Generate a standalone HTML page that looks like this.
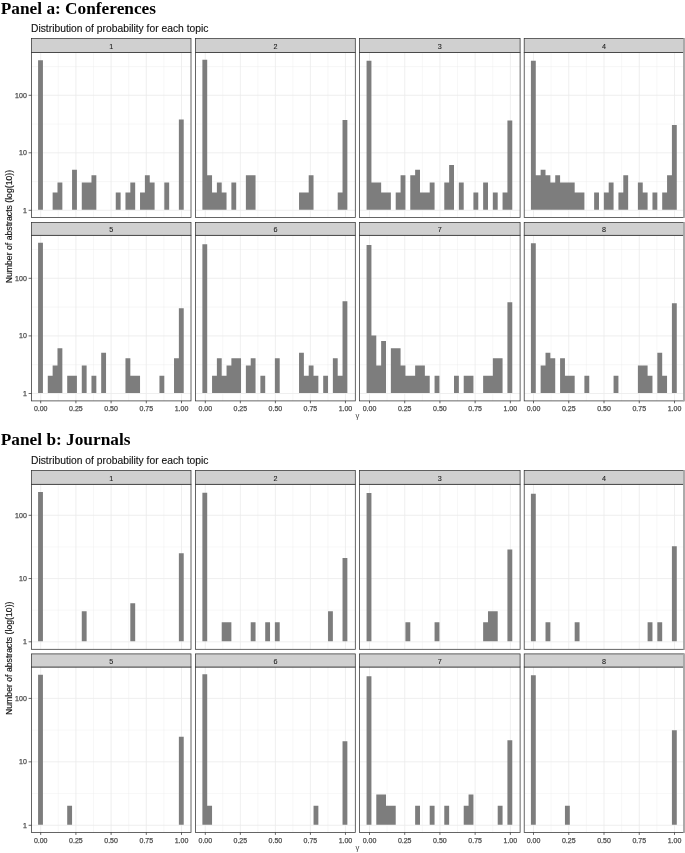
<!DOCTYPE html>
<html><head><meta charset="utf-8"><title>Distribution of probability for each topic</title>
<style>
html,body{margin:0;padding:0;background:#fff;}
svg{display:block}
.ttl{font-family:"Liberation Serif",serif;font-weight:bold;font-size:17.3px;fill:#000}
.sub{font-family:"Liberation Sans",sans-serif;font-size:10.3px;fill:#111;stroke:#111;stroke-width:0.12px}
.ylab{font-family:"Liberation Sans",sans-serif;font-size:8.7px;fill:#111;stroke:#111;stroke-width:0.15px}
.xlab{font-family:"Liberation Sans","DejaVu Sans",sans-serif;font-size:7.7px;fill:#444}
.tick{font-family:"Liberation Sans",sans-serif;font-size:7px;fill:#4d4d4d;stroke:#4d4d4d;stroke-width:0.25px}
.strip{font-family:"Liberation Sans",sans-serif;font-size:7.2px;fill:#1a1a1a;stroke:#1a1a1a;stroke-width:0.08px}
</style></head><body>
<svg width="685" height="853" viewBox="0 0 685 853">
<rect width="685" height="853" fill="#fff"/>
<text x="0.8" y="13.7" class="ttl">Panel a: Conferences</text>
<text x="31.0" y="32.4" class="sub">Distribution of probability for each topic</text>
<text transform="translate(12.2,226.6) rotate(-90)" text-anchor="middle" class="ylab">Number of abstracts (log(10))</text>
<rect x="31.5" y="52.4" width="159.5" height="165.00" fill="#fff"/>
<path d="M58.30 52.4V217.4M93.50 52.4V217.4M128.70 52.4V217.4M163.90 52.4V217.4M31.5 181.55H191.0M31.5 124.05H191.0M31.5 66.55H191.0" stroke="#ebebeb" stroke-width="0.4" fill="none"/>
<path d="M40.70 52.4V217.4M75.90 52.4V217.4M111.10 52.4V217.4M146.30 52.4V217.4M181.50 52.4V217.4M31.5 210.30H191.0M31.5 152.80H191.0M31.5 95.30H191.0" stroke="#ebebeb" stroke-width="0.8" fill="none"/>
<path d="M38.07 209.85v-149.70h4.86v149.70zM52.64 209.85v-17.31h4.86v17.31zM57.49 209.85v-27.43h4.86v27.43zM72.06 209.85v-40.19h4.86v40.19zM81.77 209.85v-27.43h4.86v27.43zM86.62 209.85v-27.43h4.86v27.43zM91.48 209.85v-34.62h4.86v34.62zM115.76 209.85v-17.31h4.86v17.31zM125.47 209.85v-17.31h4.86v17.31zM130.32 209.85v-27.43h4.86v27.43zM140.03 209.85v-17.31h4.86v17.31zM144.89 209.85v-34.62h4.86v34.62zM149.74 209.85v-27.43h4.86v27.43zM164.31 209.85v-27.43h4.86v27.43zM178.87 209.85v-90.40h4.86v90.40z" fill="#7d7d7d"/>
<rect x="31.5" y="52.4" width="159.5" height="165.00" fill="none" stroke="#333" stroke-width="0.75"/>
<rect x="31.5" y="38.6" width="159.5" height="13.80" fill="#d0d0d0" stroke="#333" stroke-width="0.75"/>
<text x="111.25" y="48.70" text-anchor="middle" class="strip">1</text>
<text x="26.80" y="212.80" text-anchor="end" class="tick">1</text>
<text x="26.80" y="155.30" text-anchor="end" class="tick">10</text>
<text x="26.80" y="97.80" text-anchor="end" class="tick">100</text>
<path d="M28.60 210.30H31.5M28.60 152.80H31.5M28.60 95.30H31.5" stroke="#333" stroke-width="0.75" fill="none"/>
<rect x="195.45" y="52.4" width="159.85000000000002" height="165.00" fill="#fff"/>
<path d="M222.82 52.4V217.4M257.86 52.4V217.4M292.89 52.4V217.4M327.93 52.4V217.4M195.45 181.55H355.3M195.45 124.05H355.3M195.45 66.55H355.3" stroke="#ebebeb" stroke-width="0.4" fill="none"/>
<path d="M205.30 52.4V217.4M240.34 52.4V217.4M275.38 52.4V217.4M310.41 52.4V217.4M345.45 52.4V217.4M195.45 210.30H355.3M195.45 152.80H355.3M195.45 95.30H355.3" stroke="#ebebeb" stroke-width="0.8" fill="none"/>
<path d="M202.38 209.85v-150.20h4.83v150.20zM207.22 209.85v-34.62h4.83v34.62zM212.05 209.85v-17.31h4.83v17.31zM216.88 209.85v-27.43h4.83v27.43zM221.71 209.85v-17.31h4.83v17.31zM231.38 209.85v-27.43h4.83v27.43zM245.88 209.85v-34.62h4.83v34.62zM250.71 209.85v-34.62h4.83v34.62zM299.04 209.85v-17.31h4.83v17.31zM303.87 209.85v-17.31h4.83v17.31zM308.70 209.85v-34.62h4.83v34.62zM337.70 209.85v-17.31h4.83v17.31zM342.53 209.85v-89.90h4.83v89.90z" fill="#7d7d7d"/>
<rect x="195.45" y="52.4" width="159.85000000000002" height="165.00" fill="none" stroke="#333" stroke-width="0.75"/>
<rect x="195.45" y="38.6" width="159.85000000000002" height="13.80" fill="#d0d0d0" stroke="#333" stroke-width="0.75"/>
<text x="275.38" y="48.70" text-anchor="middle" class="strip">2</text>
<rect x="359.4" y="52.4" width="160.70000000000005" height="165.00" fill="#fff"/>
<path d="M387.11 52.4V217.4M422.32 52.4V217.4M457.53 52.4V217.4M492.74 52.4V217.4M359.4 181.55H520.1M359.4 124.05H520.1M359.4 66.55H520.1" stroke="#ebebeb" stroke-width="0.4" fill="none"/>
<path d="M369.50 52.4V217.4M404.71 52.4V217.4M439.93 52.4V217.4M475.14 52.4V217.4M510.35 52.4V217.4M359.4 210.30H520.1M359.4 152.80H520.1M359.4 95.30H520.1" stroke="#ebebeb" stroke-width="0.8" fill="none"/>
<path d="M366.57 209.85v-149.00h4.86v149.00zM371.43 209.85v-27.43h4.86v27.43zM376.29 209.85v-27.43h4.86v27.43zM381.14 209.85v-17.31h4.86v17.31zM386.00 209.85v-17.31h4.86v17.31zM395.71 209.85v-17.31h4.86v17.31zM400.57 209.85v-34.62h4.86v34.62zM410.28 209.85v-34.62h4.86v34.62zM415.14 209.85v-40.19h4.86v40.19zM420.00 209.85v-17.31h4.86v17.31zM424.85 209.85v-17.31h4.86v17.31zM429.71 209.85v-27.43h4.86v27.43zM444.28 209.85v-27.43h4.86v27.43zM449.14 209.85v-44.74h4.86v44.74zM458.85 209.85v-27.43h4.86v27.43zM473.42 209.85v-17.31h4.86v17.31zM483.14 209.85v-27.43h4.86v27.43zM492.85 209.85v-17.31h4.86v17.31zM502.56 209.85v-17.31h4.86v17.31zM507.42 209.85v-89.40h4.86v89.40z" fill="#7d7d7d"/>
<rect x="359.4" y="52.4" width="160.70000000000005" height="165.00" fill="none" stroke="#333" stroke-width="0.75"/>
<rect x="359.4" y="38.6" width="160.70000000000005" height="13.80" fill="#d0d0d0" stroke="#333" stroke-width="0.75"/>
<text x="439.75" y="48.70" text-anchor="middle" class="strip">3</text>
<rect x="524.2" y="52.4" width="159.79999999999995" height="165.00" fill="#fff"/>
<path d="M551.12 52.4V217.4M586.38 52.4V217.4M621.62 52.4V217.4M656.88 52.4V217.4M524.2 181.55H684.0M524.2 124.05H684.0M524.2 66.55H684.0" stroke="#ebebeb" stroke-width="0.4" fill="none"/>
<path d="M533.50 52.4V217.4M568.75 52.4V217.4M604.00 52.4V217.4M639.25 52.4V217.4M674.50 52.4V217.4M524.2 210.30H684.0M524.2 152.80H684.0M524.2 95.30H684.0" stroke="#ebebeb" stroke-width="0.8" fill="none"/>
<path d="M530.92 209.85v-149.00h4.86v149.00zM535.78 209.85v-34.62h4.86v34.62zM540.64 209.85v-40.19h4.86v40.19zM545.51 209.85v-34.62h4.86v34.62zM550.37 209.85v-27.43h4.86v27.43zM555.23 209.85v-34.62h4.86v34.62zM560.09 209.85v-27.43h4.86v27.43zM564.95 209.85v-27.43h4.86v27.43zM569.82 209.85v-27.43h4.86v27.43zM574.68 209.85v-17.31h4.86v17.31zM579.54 209.85v-17.31h4.86v17.31zM594.13 209.85v-17.31h4.86v17.31zM603.85 209.85v-17.31h4.86v17.31zM608.71 209.85v-27.43h4.86v27.43zM618.44 209.85v-17.31h4.86v17.31zM623.30 209.85v-34.62h4.86v34.62zM637.88 209.85v-27.43h4.86v27.43zM642.75 209.85v-17.31h4.86v17.31zM652.47 209.85v-17.31h4.86v17.31zM662.19 209.85v-17.31h4.86v17.31zM667.06 209.85v-34.62h4.86v34.62zM671.92 209.85v-84.80h4.86v84.80z" fill="#7d7d7d"/>
<rect x="524.2" y="52.4" width="159.79999999999995" height="165.00" fill="none" stroke="#333" stroke-width="0.75"/>
<rect x="524.2" y="38.6" width="159.79999999999995" height="13.80" fill="#d0d0d0" stroke="#333" stroke-width="0.75"/>
<text x="604.10" y="48.70" text-anchor="middle" class="strip">4</text>
<rect x="683.1" y="38.30" width="1.9" height="179.40" fill="#ababab"/>
<rect x="31.5" y="235.3" width="159.5" height="165.60" fill="#fff"/>
<path d="M58.30 235.3V400.9M93.50 235.3V400.9M128.70 235.3V400.9M163.90 235.3V400.9M31.5 364.70H191.0M31.5 307.10H191.0M31.5 249.50H191.0" stroke="#ebebeb" stroke-width="0.4" fill="none"/>
<path d="M40.70 235.3V400.9M75.90 235.3V400.9M111.10 235.3V400.9M146.30 235.3V400.9M181.50 235.3V400.9M31.5 393.50H191.0M31.5 335.90H191.0M31.5 278.30H191.0" stroke="#ebebeb" stroke-width="0.8" fill="none"/>
<path d="M38.07 393.05v-150.20h4.86v150.20zM47.78 393.05v-17.34h4.86v17.34zM52.64 393.05v-27.48h4.86v27.48zM57.49 393.05v-44.82h4.86v44.82zM67.20 393.05v-17.34h4.86v17.34zM72.06 393.05v-17.34h4.86v17.34zM81.77 393.05v-27.48h4.86v27.48zM91.48 393.05v-17.34h4.86v17.34zM101.19 393.05v-40.26h4.86v40.26zM125.47 393.05v-34.68h4.86v34.68zM130.32 393.05v-17.34h4.86v17.34zM135.18 393.05v-17.34h4.86v17.34zM159.45 393.05v-17.34h4.86v17.34zM174.02 393.05v-34.68h4.86v34.68zM178.87 393.05v-84.80h4.86v84.80z" fill="#7d7d7d"/>
<rect x="31.5" y="235.3" width="159.5" height="165.60" fill="none" stroke="#333" stroke-width="0.75"/>
<rect x="31.5" y="222.55" width="159.5" height="12.75" fill="#d0d0d0" stroke="#333" stroke-width="0.75"/>
<text x="111.25" y="232.12" text-anchor="middle" class="strip">5</text>
<text x="26.80" y="396.00" text-anchor="end" class="tick">1</text>
<text x="26.80" y="338.40" text-anchor="end" class="tick">10</text>
<text x="26.80" y="280.80" text-anchor="end" class="tick">100</text>
<path d="M28.60 393.50H31.5M28.60 335.90H31.5M28.60 278.30H31.5" stroke="#333" stroke-width="0.75" fill="none"/>
<text x="40.70" y="410.9" text-anchor="middle" class="tick">0.00</text>
<text x="75.90" y="410.9" text-anchor="middle" class="tick">0.25</text>
<text x="111.10" y="410.9" text-anchor="middle" class="tick">0.50</text>
<text x="146.30" y="410.9" text-anchor="middle" class="tick">0.75</text>
<text x="181.50" y="410.9" text-anchor="middle" class="tick">1.00</text>
<path d="M40.70 400.9v2.4M75.90 400.9v2.4M111.10 400.9v2.4M146.30 400.9v2.4M181.50 400.9v2.4" stroke="#333" stroke-width="0.75" fill="none"/>
<rect x="195.45" y="235.3" width="159.85000000000002" height="165.60" fill="#fff"/>
<path d="M222.82 235.3V400.9M257.86 235.3V400.9M292.89 235.3V400.9M327.93 235.3V400.9M195.45 364.70H355.3M195.45 307.10H355.3M195.45 249.50H355.3" stroke="#ebebeb" stroke-width="0.4" fill="none"/>
<path d="M205.30 235.3V400.9M240.34 235.3V400.9M275.38 235.3V400.9M310.41 235.3V400.9M345.45 235.3V400.9M195.45 393.50H355.3M195.45 335.90H355.3M195.45 278.30H355.3" stroke="#ebebeb" stroke-width="0.8" fill="none"/>
<path d="M202.38 393.05v-148.80h4.83v148.80zM212.05 393.05v-17.34h4.83v17.34zM216.88 393.05v-34.68h4.83v34.68zM221.71 393.05v-17.34h4.83v17.34zM226.55 393.05v-27.48h4.83v27.48zM231.38 393.05v-34.68h4.83v34.68zM236.21 393.05v-34.68h4.83v34.68zM245.88 393.05v-27.48h4.83v27.48zM250.71 393.05v-34.68h4.83v34.68zM260.38 393.05v-17.34h4.83v17.34zM274.88 393.05v-34.68h4.83v34.68zM299.04 393.05v-40.26h4.83v40.26zM303.87 393.05v-17.34h4.83v17.34zM308.70 393.05v-27.48h4.83v27.48zM313.54 393.05v-17.34h4.83v17.34zM323.20 393.05v-17.34h4.83v17.34zM332.87 393.05v-34.68h4.83v34.68zM337.70 393.05v-17.34h4.83v17.34zM342.53 393.05v-91.80h4.83v91.80z" fill="#7d7d7d"/>
<rect x="195.45" y="235.3" width="159.85000000000002" height="165.60" fill="none" stroke="#333" stroke-width="0.75"/>
<rect x="195.45" y="222.55" width="159.85000000000002" height="12.75" fill="#d0d0d0" stroke="#333" stroke-width="0.75"/>
<text x="275.38" y="232.12" text-anchor="middle" class="strip">6</text>
<text x="205.30" y="410.9" text-anchor="middle" class="tick">0.00</text>
<text x="240.34" y="410.9" text-anchor="middle" class="tick">0.25</text>
<text x="275.38" y="410.9" text-anchor="middle" class="tick">0.50</text>
<text x="310.41" y="410.9" text-anchor="middle" class="tick">0.75</text>
<text x="345.45" y="410.9" text-anchor="middle" class="tick">1.00</text>
<path d="M205.30 400.9v2.4M240.34 400.9v2.4M275.38 400.9v2.4M310.41 400.9v2.4M345.45 400.9v2.4" stroke="#333" stroke-width="0.75" fill="none"/>
<rect x="359.4" y="235.3" width="160.70000000000005" height="165.60" fill="#fff"/>
<path d="M387.11 235.3V400.9M422.32 235.3V400.9M457.53 235.3V400.9M492.74 235.3V400.9M359.4 364.70H520.1M359.4 307.10H520.1M359.4 249.50H520.1" stroke="#ebebeb" stroke-width="0.4" fill="none"/>
<path d="M369.50 235.3V400.9M404.71 235.3V400.9M439.93 235.3V400.9M475.14 235.3V400.9M510.35 235.3V400.9M359.4 393.50H520.1M359.4 335.90H520.1M359.4 278.30H520.1" stroke="#ebebeb" stroke-width="0.8" fill="none"/>
<path d="M366.57 393.05v-148.00h4.86v148.00zM371.43 393.05v-57.60h4.86v57.60zM376.29 393.05v-27.48h4.86v27.48zM381.14 393.05v-52.02h4.86v52.02zM390.86 393.05v-44.82h4.86v44.82zM395.71 393.05v-44.82h4.86v44.82zM400.57 393.05v-27.48h4.86v27.48zM405.43 393.05v-17.34h4.86v17.34zM410.28 393.05v-17.34h4.86v17.34zM415.14 393.05v-27.48h4.86v27.48zM420.00 393.05v-27.48h4.86v27.48zM424.85 393.05v-17.34h4.86v17.34zM434.57 393.05v-17.34h4.86v17.34zM454.00 393.05v-17.34h4.86v17.34zM463.71 393.05v-17.34h4.86v17.34zM468.57 393.05v-17.34h4.86v17.34zM483.14 393.05v-17.34h4.86v17.34zM487.99 393.05v-17.34h4.86v17.34zM492.85 393.05v-34.68h4.86v34.68zM497.71 393.05v-34.68h4.86v34.68zM507.42 393.05v-90.90h4.86v90.90z" fill="#7d7d7d"/>
<rect x="359.4" y="235.3" width="160.70000000000005" height="165.60" fill="none" stroke="#333" stroke-width="0.75"/>
<rect x="359.4" y="222.55" width="160.70000000000005" height="12.75" fill="#d0d0d0" stroke="#333" stroke-width="0.75"/>
<text x="439.75" y="232.12" text-anchor="middle" class="strip">7</text>
<text x="369.50" y="410.9" text-anchor="middle" class="tick">0.00</text>
<text x="404.71" y="410.9" text-anchor="middle" class="tick">0.25</text>
<text x="439.93" y="410.9" text-anchor="middle" class="tick">0.50</text>
<text x="475.14" y="410.9" text-anchor="middle" class="tick">0.75</text>
<text x="510.35" y="410.9" text-anchor="middle" class="tick">1.00</text>
<path d="M369.50 400.9v2.4M404.71 400.9v2.4M439.93 400.9v2.4M475.14 400.9v2.4M510.35 400.9v2.4" stroke="#333" stroke-width="0.75" fill="none"/>
<rect x="524.2" y="235.3" width="159.79999999999995" height="165.60" fill="#fff"/>
<path d="M551.12 235.3V400.9M586.38 235.3V400.9M621.62 235.3V400.9M656.88 235.3V400.9M524.2 364.70H684.0M524.2 307.10H684.0M524.2 249.50H684.0" stroke="#ebebeb" stroke-width="0.4" fill="none"/>
<path d="M533.50 235.3V400.9M568.75 235.3V400.9M604.00 235.3V400.9M639.25 235.3V400.9M674.50 235.3V400.9M524.2 393.50H684.0M524.2 335.90H684.0M524.2 278.30H684.0" stroke="#ebebeb" stroke-width="0.8" fill="none"/>
<path d="M530.92 393.05v-149.70h4.86v149.70zM540.64 393.05v-27.48h4.86v27.48zM545.51 393.05v-40.26h4.86v40.26zM550.37 393.05v-34.68h4.86v34.68zM560.09 393.05v-34.68h4.86v34.68zM564.95 393.05v-17.34h4.86v17.34zM569.82 393.05v-17.34h4.86v17.34zM584.40 393.05v-17.34h4.86v17.34zM613.57 393.05v-17.34h4.86v17.34zM637.88 393.05v-27.48h4.86v27.48zM642.75 393.05v-27.48h4.86v27.48zM647.61 393.05v-17.34h4.86v17.34zM657.33 393.05v-40.26h4.86v40.26zM662.19 393.05v-17.34h4.86v17.34zM671.92 393.05v-89.70h4.86v89.70z" fill="#7d7d7d"/>
<rect x="524.2" y="235.3" width="159.79999999999995" height="165.60" fill="none" stroke="#333" stroke-width="0.75"/>
<rect x="524.2" y="222.55" width="159.79999999999995" height="12.75" fill="#d0d0d0" stroke="#333" stroke-width="0.75"/>
<text x="604.10" y="232.12" text-anchor="middle" class="strip">8</text>
<rect x="683.1" y="222.25" width="1.9" height="178.95" fill="#ababab"/>
<text x="533.50" y="410.9" text-anchor="middle" class="tick">0.00</text>
<text x="568.75" y="410.9" text-anchor="middle" class="tick">0.25</text>
<text x="604.00" y="410.9" text-anchor="middle" class="tick">0.50</text>
<text x="639.25" y="410.9" text-anchor="middle" class="tick">0.75</text>
<text x="674.50" y="410.9" text-anchor="middle" class="tick">1.00</text>
<path d="M533.50 400.9v2.4M568.75 400.9v2.4M604.00 400.9v2.4M639.25 400.9v2.4M674.50 400.9v2.4" stroke="#333" stroke-width="0.75" fill="none"/>
<text x="357.4" y="418.4" text-anchor="middle" class="xlab">γ</text>
<text x="0.8" y="444.9" class="ttl">Panel b: Journals</text>
<text x="31.0" y="464.2" class="sub">Distribution of probability for each topic</text>
<text transform="translate(12.2,658.3) rotate(-90)" text-anchor="middle" class="ylab">Number of abstracts (log(10))</text>
<rect x="31.5" y="484.3" width="159.5" height="165.00" fill="#fff"/>
<path d="M58.30 484.3V649.3M93.50 484.3V649.3M128.70 484.3V649.3M163.90 484.3V649.3M31.5 610.17H191.0M31.5 546.92H191.0" stroke="#ebebeb" stroke-width="0.4" fill="none"/>
<path d="M40.70 484.3V649.3M75.90 484.3V649.3M111.10 484.3V649.3M146.30 484.3V649.3M181.50 484.3V649.3M31.5 641.80H191.0M31.5 578.55H191.0M31.5 515.30H191.0" stroke="#ebebeb" stroke-width="0.8" fill="none"/>
<path d="M38.07 641.35v-149.30h4.86v149.30zM81.77 641.35v-30.18h4.86v30.18zM130.32 641.35v-38.08h4.86v38.08zM178.87 641.35v-88.00h4.86v88.00z" fill="#7d7d7d"/>
<rect x="31.5" y="484.3" width="159.5" height="165.00" fill="none" stroke="#333" stroke-width="0.75"/>
<rect x="31.5" y="470.5" width="159.5" height="13.80" fill="#d0d0d0" stroke="#333" stroke-width="0.75"/>
<text x="111.25" y="480.60" text-anchor="middle" class="strip">1</text>
<text x="26.80" y="644.30" text-anchor="end" class="tick">1</text>
<text x="26.80" y="581.05" text-anchor="end" class="tick">10</text>
<text x="26.80" y="517.80" text-anchor="end" class="tick">100</text>
<path d="M28.60 641.80H31.5M28.60 578.55H31.5M28.60 515.30H31.5" stroke="#333" stroke-width="0.75" fill="none"/>
<rect x="195.45" y="484.3" width="159.85000000000002" height="165.00" fill="#fff"/>
<path d="M222.82 484.3V649.3M257.86 484.3V649.3M292.89 484.3V649.3M327.93 484.3V649.3M195.45 610.17H355.3M195.45 546.92H355.3" stroke="#ebebeb" stroke-width="0.4" fill="none"/>
<path d="M205.30 484.3V649.3M240.34 484.3V649.3M275.38 484.3V649.3M310.41 484.3V649.3M345.45 484.3V649.3M195.45 641.80H355.3M195.45 578.55H355.3M195.45 515.30H355.3" stroke="#ebebeb" stroke-width="0.8" fill="none"/>
<path d="M202.38 641.35v-148.50h4.83v148.50zM221.71 641.35v-19.04h4.83v19.04zM226.55 641.35v-19.04h4.83v19.04zM250.71 641.35v-19.04h4.83v19.04zM265.21 641.35v-19.04h4.83v19.04zM274.88 641.35v-19.04h4.83v19.04zM328.04 641.35v-30.18h4.83v30.18zM342.53 641.35v-83.40h4.83v83.40z" fill="#7d7d7d"/>
<rect x="195.45" y="484.3" width="159.85000000000002" height="165.00" fill="none" stroke="#333" stroke-width="0.75"/>
<rect x="195.45" y="470.5" width="159.85000000000002" height="13.80" fill="#d0d0d0" stroke="#333" stroke-width="0.75"/>
<text x="275.38" y="480.60" text-anchor="middle" class="strip">2</text>
<rect x="359.4" y="484.3" width="160.70000000000005" height="165.00" fill="#fff"/>
<path d="M387.11 484.3V649.3M422.32 484.3V649.3M457.53 484.3V649.3M492.74 484.3V649.3M359.4 610.17H520.1M359.4 546.92H520.1" stroke="#ebebeb" stroke-width="0.4" fill="none"/>
<path d="M369.50 484.3V649.3M404.71 484.3V649.3M439.93 484.3V649.3M475.14 484.3V649.3M510.35 484.3V649.3M359.4 641.80H520.1M359.4 578.55H520.1M359.4 515.30H520.1" stroke="#ebebeb" stroke-width="0.8" fill="none"/>
<path d="M366.57 641.35v-148.30h4.86v148.30zM405.43 641.35v-19.04h4.86v19.04zM434.57 641.35v-19.04h4.86v19.04zM483.14 641.35v-19.04h4.86v19.04zM487.99 641.35v-30.18h4.86v30.18zM492.85 641.35v-30.18h4.86v30.18zM507.42 641.35v-91.80h4.86v91.80z" fill="#7d7d7d"/>
<rect x="359.4" y="484.3" width="160.70000000000005" height="165.00" fill="none" stroke="#333" stroke-width="0.75"/>
<rect x="359.4" y="470.5" width="160.70000000000005" height="13.80" fill="#d0d0d0" stroke="#333" stroke-width="0.75"/>
<text x="439.75" y="480.60" text-anchor="middle" class="strip">3</text>
<rect x="524.2" y="484.3" width="159.79999999999995" height="165.00" fill="#fff"/>
<path d="M551.12 484.3V649.3M586.38 484.3V649.3M621.62 484.3V649.3M656.88 484.3V649.3M524.2 610.17H684.0M524.2 546.92H684.0" stroke="#ebebeb" stroke-width="0.4" fill="none"/>
<path d="M533.50 484.3V649.3M568.75 484.3V649.3M604.00 484.3V649.3M639.25 484.3V649.3M674.50 484.3V649.3M524.2 641.80H684.0M524.2 578.55H684.0M524.2 515.30H684.0" stroke="#ebebeb" stroke-width="0.8" fill="none"/>
<path d="M530.92 641.35v-147.60h4.86v147.60zM545.51 641.35v-19.04h4.86v19.04zM574.68 641.35v-19.04h4.86v19.04zM647.61 641.35v-19.04h4.86v19.04zM657.33 641.35v-19.04h4.86v19.04zM671.92 641.35v-95.20h4.86v95.20z" fill="#7d7d7d"/>
<rect x="524.2" y="484.3" width="159.79999999999995" height="165.00" fill="none" stroke="#333" stroke-width="0.75"/>
<rect x="524.2" y="470.5" width="159.79999999999995" height="13.80" fill="#d0d0d0" stroke="#333" stroke-width="0.75"/>
<text x="604.10" y="480.60" text-anchor="middle" class="strip">4</text>
<rect x="683.1" y="470.20" width="1.9" height="179.40" fill="#ababab"/>
<rect x="31.5" y="667.0" width="159.5" height="165.50" fill="#fff"/>
<path d="M58.30 667.0V832.5M93.50 667.0V832.5M128.70 667.0V832.5M163.90 667.0V832.5M31.5 793.57H191.0M31.5 730.12H191.0" stroke="#ebebeb" stroke-width="0.4" fill="none"/>
<path d="M40.70 667.0V832.5M75.90 667.0V832.5M111.10 667.0V832.5M146.30 667.0V832.5M181.50 667.0V832.5M31.5 825.30H191.0M31.5 761.85H191.0M31.5 698.40H191.0" stroke="#ebebeb" stroke-width="0.8" fill="none"/>
<path d="M38.07 824.85v-150.00h4.86v150.00zM67.20 824.85v-19.10h4.86v19.10zM178.87 824.85v-88.00h4.86v88.00z" fill="#7d7d7d"/>
<rect x="31.5" y="667.0" width="159.5" height="165.50" fill="none" stroke="#333" stroke-width="0.75"/>
<rect x="31.5" y="653.9" width="159.5" height="13.10" fill="#d0d0d0" stroke="#333" stroke-width="0.75"/>
<text x="111.25" y="663.65" text-anchor="middle" class="strip">5</text>
<text x="26.80" y="827.80" text-anchor="end" class="tick">1</text>
<text x="26.80" y="764.35" text-anchor="end" class="tick">10</text>
<text x="26.80" y="700.90" text-anchor="end" class="tick">100</text>
<path d="M28.60 825.30H31.5M28.60 761.85H31.5M28.60 698.40H31.5" stroke="#333" stroke-width="0.75" fill="none"/>
<text x="40.70" y="842.9" text-anchor="middle" class="tick">0.00</text>
<text x="75.90" y="842.9" text-anchor="middle" class="tick">0.25</text>
<text x="111.10" y="842.9" text-anchor="middle" class="tick">0.50</text>
<text x="146.30" y="842.9" text-anchor="middle" class="tick">0.75</text>
<text x="181.50" y="842.9" text-anchor="middle" class="tick">1.00</text>
<path d="M40.70 832.5v2.4M75.90 832.5v2.4M111.10 832.5v2.4M146.30 832.5v2.4M181.50 832.5v2.4" stroke="#333" stroke-width="0.75" fill="none"/>
<rect x="195.45" y="667.0" width="159.85000000000002" height="165.50" fill="#fff"/>
<path d="M222.82 667.0V832.5M257.86 667.0V832.5M292.89 667.0V832.5M327.93 667.0V832.5M195.45 793.57H355.3M195.45 730.12H355.3" stroke="#ebebeb" stroke-width="0.4" fill="none"/>
<path d="M205.30 667.0V832.5M240.34 667.0V832.5M275.38 667.0V832.5M310.41 667.0V832.5M345.45 667.0V832.5M195.45 825.30H355.3M195.45 761.85H355.3M195.45 698.40H355.3" stroke="#ebebeb" stroke-width="0.8" fill="none"/>
<path d="M202.38 824.85v-150.70h4.83v150.70zM207.22 824.85v-19.10h4.83v19.10zM313.54 824.85v-19.10h4.83v19.10zM342.53 824.85v-83.60h4.83v83.60z" fill="#7d7d7d"/>
<rect x="195.45" y="667.0" width="159.85000000000002" height="165.50" fill="none" stroke="#333" stroke-width="0.75"/>
<rect x="195.45" y="653.9" width="159.85000000000002" height="13.10" fill="#d0d0d0" stroke="#333" stroke-width="0.75"/>
<text x="275.38" y="663.65" text-anchor="middle" class="strip">6</text>
<text x="205.30" y="842.9" text-anchor="middle" class="tick">0.00</text>
<text x="240.34" y="842.9" text-anchor="middle" class="tick">0.25</text>
<text x="275.38" y="842.9" text-anchor="middle" class="tick">0.50</text>
<text x="310.41" y="842.9" text-anchor="middle" class="tick">0.75</text>
<text x="345.45" y="842.9" text-anchor="middle" class="tick">1.00</text>
<path d="M205.30 832.5v2.4M240.34 832.5v2.4M275.38 832.5v2.4M310.41 832.5v2.4M345.45 832.5v2.4" stroke="#333" stroke-width="0.75" fill="none"/>
<rect x="359.4" y="667.0" width="160.70000000000005" height="165.50" fill="#fff"/>
<path d="M387.11 667.0V832.5M422.32 667.0V832.5M457.53 667.0V832.5M492.74 667.0V832.5M359.4 793.57H520.1M359.4 730.12H520.1" stroke="#ebebeb" stroke-width="0.4" fill="none"/>
<path d="M369.50 667.0V832.5M404.71 667.0V832.5M439.93 667.0V832.5M475.14 667.0V832.5M510.35 667.0V832.5M359.4 825.30H520.1M359.4 761.85H520.1M359.4 698.40H520.1" stroke="#ebebeb" stroke-width="0.8" fill="none"/>
<path d="M366.57 824.85v-148.50h4.86v148.50zM376.29 824.85v-30.27h4.86v30.27zM381.14 824.85v-30.27h4.86v30.27zM386.00 824.85v-19.10h4.86v19.10zM390.86 824.85v-19.10h4.86v19.10zM415.14 824.85v-19.10h4.86v19.10zM429.71 824.85v-19.10h4.86v19.10zM444.28 824.85v-19.10h4.86v19.10zM463.71 824.85v-19.10h4.86v19.10zM468.57 824.85v-30.27h4.86v30.27zM497.71 824.85v-19.10h4.86v19.10zM507.42 824.85v-84.60h4.86v84.60z" fill="#7d7d7d"/>
<rect x="359.4" y="667.0" width="160.70000000000005" height="165.50" fill="none" stroke="#333" stroke-width="0.75"/>
<rect x="359.4" y="653.9" width="160.70000000000005" height="13.10" fill="#d0d0d0" stroke="#333" stroke-width="0.75"/>
<text x="439.75" y="663.65" text-anchor="middle" class="strip">7</text>
<text x="369.50" y="842.9" text-anchor="middle" class="tick">0.00</text>
<text x="404.71" y="842.9" text-anchor="middle" class="tick">0.25</text>
<text x="439.93" y="842.9" text-anchor="middle" class="tick">0.50</text>
<text x="475.14" y="842.9" text-anchor="middle" class="tick">0.75</text>
<text x="510.35" y="842.9" text-anchor="middle" class="tick">1.00</text>
<path d="M369.50 832.5v2.4M404.71 832.5v2.4M439.93 832.5v2.4M475.14 832.5v2.4M510.35 832.5v2.4" stroke="#333" stroke-width="0.75" fill="none"/>
<rect x="524.2" y="667.0" width="159.79999999999995" height="165.50" fill="#fff"/>
<path d="M551.12 667.0V832.5M586.38 667.0V832.5M621.62 667.0V832.5M656.88 667.0V832.5M524.2 793.57H684.0M524.2 730.12H684.0" stroke="#ebebeb" stroke-width="0.4" fill="none"/>
<path d="M533.50 667.0V832.5M568.75 667.0V832.5M604.00 667.0V832.5M639.25 667.0V832.5M674.50 667.0V832.5M524.2 825.30H684.0M524.2 761.85H684.0M524.2 698.40H684.0" stroke="#ebebeb" stroke-width="0.8" fill="none"/>
<path d="M530.92 824.85v-149.50h4.86v149.50zM564.95 824.85v-19.10h4.86v19.10zM671.92 824.85v-94.50h4.86v94.50z" fill="#7d7d7d"/>
<rect x="524.2" y="667.0" width="159.79999999999995" height="165.50" fill="none" stroke="#333" stroke-width="0.75"/>
<rect x="524.2" y="653.9" width="159.79999999999995" height="13.10" fill="#d0d0d0" stroke="#333" stroke-width="0.75"/>
<text x="604.10" y="663.65" text-anchor="middle" class="strip">8</text>
<rect x="683.1" y="653.60" width="1.9" height="179.20" fill="#ababab"/>
<text x="533.50" y="842.9" text-anchor="middle" class="tick">0.00</text>
<text x="568.75" y="842.9" text-anchor="middle" class="tick">0.25</text>
<text x="604.00" y="842.9" text-anchor="middle" class="tick">0.50</text>
<text x="639.25" y="842.9" text-anchor="middle" class="tick">0.75</text>
<text x="674.50" y="842.9" text-anchor="middle" class="tick">1.00</text>
<path d="M533.50 832.5v2.4M568.75 832.5v2.4M604.00 832.5v2.4M639.25 832.5v2.4M674.50 832.5v2.4" stroke="#333" stroke-width="0.75" fill="none"/>
<text x="357.4" y="850.1" text-anchor="middle" class="xlab">γ</text>
</svg>
</body></html>
